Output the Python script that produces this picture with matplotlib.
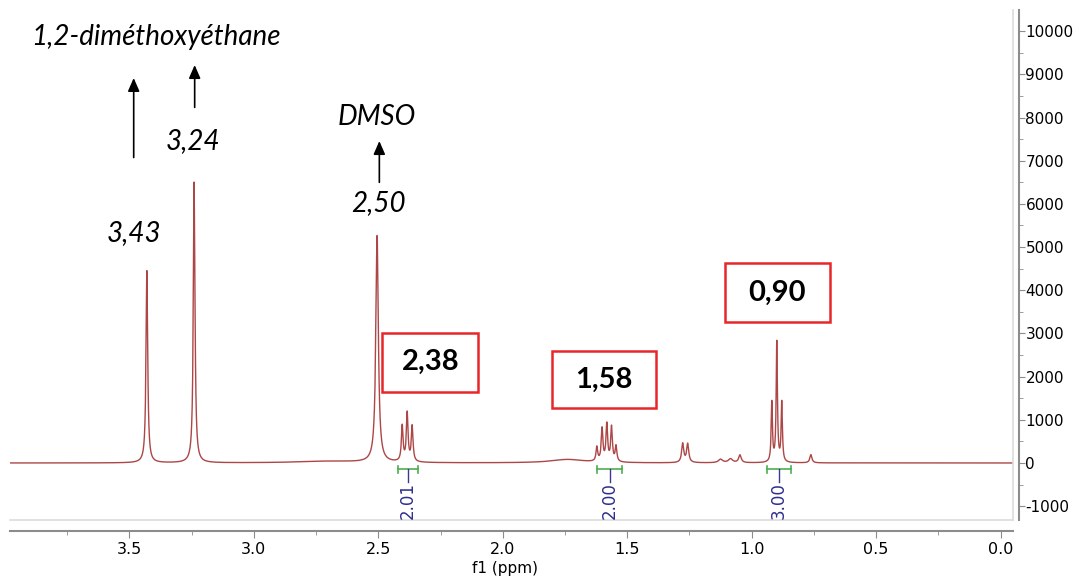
import numpy as np
import matplotlib.pyplot as plt
from matplotlib.patches import Rectangle
from matplotlib.ticker import MultipleLocator, FormatStrFormatter, FuncFormatter

# Peak list: position (ppm), height (a.u.), half width (ppm)
peak_ppm = [3.430, 3.240, 2.505,
            2.404, 2.384, 2.364,
            1.622, 1.601, 1.582, 1.563, 1.545,
            1.277, 1.257,
            1.125, 1.085, 1.047,
            0.919, 0.899, 0.879,
            0.762,
            1.740, 2.700]
peak_height = [4450, 6500, 5250,
               820, 1120, 820,
               330, 760, 860, 800, 360,
               440, 430,
               80, 90, 180,
               1380, 2780, 1380,
               190,
               80, 40]
peak_width = [0.004, 0.004, 0.006,
              0.004, 0.004, 0.004,
              0.004, 0.004, 0.004, 0.004, 0.004,
              0.005, 0.005,
              0.010, 0.010, 0.006,
              0.003, 0.003, 0.003,
              0.005,
              0.080, 0.150]

# Integrals: (start, end) ppm and value
integral_range = [(2.42, 2.34), (1.62, 1.52), (0.94, 0.84)]
integral_value = ["2.01", "2.00", "3.00"]

# Boxed shift labels
box_label = ["2,38", "1,58", "0,90"]
box_center = [(2.291, 2340), (1.593, 1921), (0.899, 3935)]
box_extent = [(2.484, 2.099, 1644, 3009), (1.802, 1.384, 1273, 2593), (1.108, 0.686, 3264, 4630)]

ppm = np.linspace(-0.05, 3.99, 40000)
spec = np.zeros_like(ppm)
for p, h, w in zip(peak_ppm, peak_height, peak_width):
    spec += h * w**2 / ((ppm - p)**2 + w**2)

fig = plt.figure(figsize=(10.74, 5.79), dpi=100)
ax = fig.add_axes([10/1074, 59/579, 1003/1074, 510/579])

ax.plot(ppm, spec, color='#ad4646', lw=1.0)
ax.set_xlim(3.98, -0.05)
ax.set_ylim(-1320, 10490)

# spines / ticks
for s in ['top', 'left']:
    ax.spines[s].set_visible(False)
ax.spines['right'].set_position(('outward', 4))
ax.spines['bottom'].set_position(('outward', 8))
for s in ['right', 'bottom']:
    ax.spines[s].set_color('#8c8c8c')
    ax.spines[s].set_linewidth(1.5)
ax.yaxis.set_ticks_position('right')
ax.yaxis.set_major_locator(MultipleLocator(1000))
ax.yaxis.set_minor_locator(MultipleLocator(500))
ax.yaxis.set_major_formatter(FuncFormatter(lambda v, pos: '%d' % v))
ax.xaxis.set_major_locator(MultipleLocator(0.5))
ax.xaxis.set_minor_locator(MultipleLocator(0.25))
ax.xaxis.set_major_formatter(FormatStrFormatter('%.1f'))
ax.tick_params(axis='x', which='major', length=5, color='#8c8c8c', labelsize=11.5, pad=3)
ax.tick_params(axis='y', which='major', length=4, color='#8c8c8c', labelsize=11, pad=1)
ax.tick_params(axis='both', which='minor', length=3, color='#8c8c8c')
fig.text(505/1074, 1 - 568/579, 'f1 (ppm)', fontsize=11, ha='center', va='center')

# light inner frame
ax.plot([1, 1], [0, 1], transform=ax.transAxes, color='#dcdcdc', lw=1.2, clip_on=False)
ax.plot([0, 1], [0, 0], transform=ax.transAxes, color='#dcdcdc', lw=1.2, clip_on=False)

# italic labels and arrows
lab = dict(fontsize=20, style='italic', family='Lato', ha='center', va='center')
ax.text(3.395, 9860, '1,2-diméthoxyéthane', **lab)
ax.text(3.483, 5320, '3,43', **lab)
ax.text(3.246, 7450, '3,24', **lab)
ax.text(2.508, 8010, 'DMSO', **lab)
ax.text(2.500, 6020, '2,50', **lab)
arr = dict(arrowstyle='-|>,head_length=0.8,head_width=0.35', color='black', lw=1.2)
ax.annotate('', xy=(3.483, 8980), xytext=(3.483, 7010), arrowprops=arr)
ax.annotate('', xy=(3.238, 9280), xytext=(3.238, 8170), arrowprops=arr)
ax.annotate('', xy=(2.496, 7520), xytext=(2.496, 6435), arrowprops=arr)

# red boxes
for t, (cx, cy), (x0, x1, y0, y1) in zip(box_label, box_center, box_extent):
    ax.add_patch(Rectangle((x1, y0), x0 - x1, y1 - y0, fill=False, ec='#e8262a', lw=1.8))
    ax.text(cx, cy, t, fontsize=21, fontweight='bold', family='Lato', ha='center', va='center')

# integrals
for (a, b), v in zip(integral_range, integral_value):
    ax.plot([a, b], [-150, -150], color='#4caf50', lw=1.2)
    ax.plot([a, a], [-230, -70], color='#4caf50', lw=1.2)
    ax.plot([b, b], [-230, -70], color='#4caf50', lw=1.2)
    m = (a + b) / 2
    ax.plot([m, m], [-150, -450], color='#3a3a90', lw=1.0)
    ax.text(m, -440, v, rotation=90, color='#2e2e8c', fontsize=12, ha='center', va='top')

fig.savefig('out.png', dpi=100)
